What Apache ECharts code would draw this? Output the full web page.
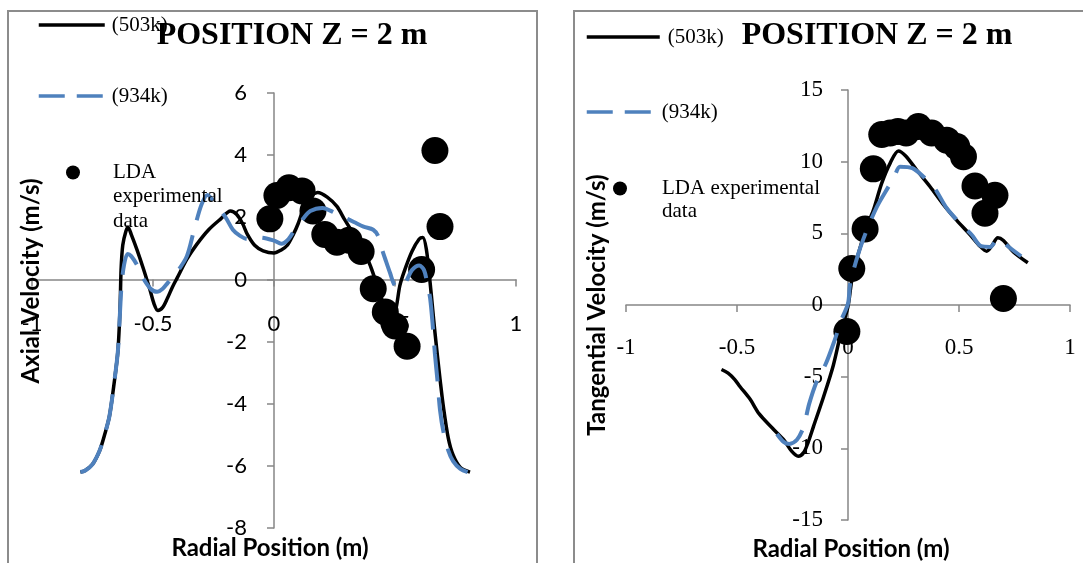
<!DOCTYPE html>
<html>
<head>
<meta charset="utf-8">
<title>Position Z = 2 m</title>
<script src="https://cdn.jsdelivr.net/npm/echarts@6.0.0/dist/echarts.min.js"></script>
<style>
  html, body { margin: 0; padding: 0; background: #fff; }
  #app { width: 1083px; height: 563px; }
</style>
</head>
<body>
<div id="app"></div>
<script>
// radial position (m) -> velocity (m/s)

// left panel: axial velocity
var axial503k = [
  [-0.80, -6.2], [-0.78, -6.15], [-0.75, -5.95], [-0.72, -5.5], [-0.70, -5.0], [-0.68, -4.4],
  [-0.66, -3.3], [-0.645, -2.3], [-0.636, -0.9], [-0.632, 0.3], [-0.625, 1.1], [-0.612, 1.55],
  [-0.603, 1.68], [-0.59, 1.45], [-0.566, 0.95], [-0.54, 0.35], [-0.512, -0.35], [-0.495, -0.8],
  [-0.48, -1.0], [-0.46, -0.9], [-0.44, -0.6], [-0.42, -0.25], [-0.40, 0.05], [-0.36, 0.65],
  [-0.32, 1.12], [-0.27, 1.6], [-0.22, 1.95], [-0.18, 2.2], [-0.155, 2.1], [-0.13, 1.8],
  [-0.11, 1.45], [-0.08, 1.1], [-0.045, 0.92], [0.0, 0.85], [0.03, 0.95], [0.055, 1.1],
  [0.08, 1.45], [0.10, 1.8], [0.128, 2.4], [0.155, 2.7], [0.18, 2.8], [0.22, 2.65],
  [0.26, 2.35], [0.29, 1.95], [0.33, 1.45], [0.37, 0.95], [0.40, 0.4], [0.42, -0.05],
  [0.44, -0.55], [0.47, -1.0], [0.49, -1.2], [0.505, -0.9], [0.52, -0.2], [0.54, 0.3],
  [0.57, 0.9], [0.60, 1.3], [0.615, 1.35], [0.63, 0.95], [0.645, -0.1], [0.655, -0.9],
  [0.665, -1.7], [0.676, -2.5], [0.686, -3.2], [0.70, -4.1], [0.72, -5.1], [0.74, -5.65],
  [0.77, -6.05], [0.81, -6.2]
];
var axial934k = [
  [-0.80, -6.2], [-0.78, -6.15], [-0.75, -5.95], [-0.72, -5.5], [-0.70, -5.0], [-0.68, -4.4],
  [-0.66, -3.3], [-0.645, -2.3], [-0.636, -1.0], [-0.63, -0.2], [-0.62, 0.45], [-0.605, 0.82],
  [-0.59, 0.75], [-0.565, 0.45], [-0.545, 0.1], [-0.51, -0.3], [-0.483, -0.4], [-0.46, -0.3],
  [-0.44, -0.12], [-0.40, 0.25], [-0.36, 0.75], [-0.33, 1.6], [-0.30, 2.4], [-0.275, 2.72],
  [-0.24, 2.4], [-0.20, 2.0], [-0.17, 1.6], [-0.14, 1.4], [-0.11, 1.3], [-0.06, 1.35],
  [0.0, 1.25], [0.03, 1.15], [0.06, 1.3], [0.09, 1.65], [0.12, 1.95], [0.15, 2.2],
  [0.20, 2.3], [0.25, 2.15], [0.29, 2.0], [0.33, 1.85], [0.37, 1.7], [0.41, 1.6],
  [0.43, 1.4], [0.445, 1.0], [0.46, 0.65], [0.48, 0.2], [0.50, -0.2], [0.53, -0.25],
  [0.55, 0.0], [0.57, 0.3], [0.60, 0.45], [0.62, 0.3], [0.635, -0.2], [0.645, -0.6],
  [0.655, -1.4], [0.665, -2.4], [0.676, -3.3], [0.686, -4.2], [0.70, -4.9], [0.72, -5.5],
  [0.74, -5.85], [0.77, -6.1], [0.80, -6.2]
];
var axialLDA = [
  [-0.017, 1.95], [0.012, 2.7], [0.062, 2.95], [0.116, 2.85], [0.161, 2.2], [0.21, 1.45],
  [0.26, 1.2], [0.31, 1.26], [0.36, 0.9], [0.41, -0.3], [0.46, -1.05], [0.50, -1.5],
  [0.55, -2.15], [0.61, 0.32], [0.665, 4.15], [0.686, 1.7]
];

// right panel: tangential velocity
var tang503k = [
  [-0.57, -4.5], [-0.54, -4.75], [-0.51, -5.2], [-0.486, -5.7], [-0.44, -6.6], [-0.40, -7.6],
  [-0.34, -8.6], [-0.29, -9.4], [-0.254, -10.2], [-0.224, -10.55], [-0.20, -10.3], [-0.18, -9.6],
  [-0.156, -8.5], [-0.11, -6.4], [-0.066, -4.2], [-0.03, -1.8], [0.0, -0.1], [0.017, 1.7],
  [0.047, 3.6], [0.084, 5.45], [0.114, 6.6], [0.152, 8.5], [0.19, 9.9], [0.227, 10.75],
  [0.26, 10.4], [0.31, 9.4], [0.37, 8.25], [0.43, 7.0], [0.49, 5.9], [0.55, 4.9],
  [0.595, 4.1], [0.625, 3.75], [0.647, 4.1], [0.675, 4.7], [0.70, 4.5], [0.745, 3.7],
  [0.81, 2.95]
];
var tang934k = [
  [-0.32, -9.0], [-0.29, -9.55], [-0.265, -9.7], [-0.23, -9.4], [-0.20, -8.5], [-0.175, -6.9],
  [-0.14, -5.3], [-0.10, -4.1], [-0.06, -2.45], [-0.03, -1.05], [0.0, 0.1], [0.01, 1.5],
  [0.047, 3.6], [0.084, 5.2], [0.13, 6.85], [0.186, 8.35], [0.21, 9.0], [0.234, 9.65],
  [0.29, 9.55], [0.34, 8.95], [0.39, 8.15], [0.445, 6.75], [0.505, 5.7], [0.557, 4.9],
  [0.60, 4.1], [0.64, 4.05], [0.677, 4.65], [0.72, 4.1], [0.78, 3.4]
];
var tangLDA = [
  [-0.005, -1.85], [0.017, 2.55], [0.077, 5.3], [0.114, 9.5], [0.152, 11.9], [0.19, 12.0],
  [0.225, 12.1], [0.262, 12.0], [0.317, 12.45], [0.377, 12.0], [0.445, 11.5], [0.49, 11.05],
  [0.52, 10.35], [0.572, 8.3], [0.617, 6.4], [0.662, 7.65], [0.70, 0.45]
];

var seriesNames = ['(503k)', '(934k)', 'LDA experimental data'];
var xRange = { min: -1, max: 1, step: 0.5 };
var axialRange = { min: -8, max: 6, step: 2 };
var tangRange = { min: -15, max: 15, step: 5 };

var AXIS_GREY = '#868686';
var BLUE = '#4F81BD';
var SERIF = '"Liberation Serif", "Times New Roman", serif';
var SANS = 'Lato, "Liberation Sans", sans-serif';

// plot boxes (px) of the two panels
var boxL = { x0: 32, x1: 516, y0: 93, y1: 528 };
var boxR = { x0: 626, x1: 1070, y0: 90, y1: 520 };

// axes cross at zero: shift each axis from the grid edge to the zero line
function zeroShift(range, size) {
  return (0 - range.min) / (range.max - range.min) * size;
}

function valueAxis(gridIndex, range, labelFont, labelSize, margin, offset) {
  return {
    type: 'value',
    gridIndex: gridIndex,
    min: range.min, max: range.max, interval: range.step,
    offset: offset,
    axisLine: { show: true, onZero: false, lineStyle: { color: AXIS_GREY, width: 1.5 } },
    axisTick: { show: true, length: 7, lineStyle: { color: AXIS_GREY, width: 1.5 } },
    splitLine: { show: false },
    axisLabel: { margin: margin, fontFamily: labelFont, fontSize: labelSize, color: '#000' }
  };
}

function lineSeries(name, idx, data, color, width, dash) {
  return {
    name: name, type: 'line', xAxisIndex: idx, yAxisIndex: idx,
    data: data, symbol: 'none', smooth: 0.3,
    lineStyle: { color: color, width: width, type: dash || 'solid' },
    itemStyle: { color: color },
    animation: false
  };
}

function dotSeries(name, idx, data) {
  return {
    name: name, type: 'scatter', xAxisIndex: idx, yAxisIndex: idx,
    data: data, symbol: 'circle', symbolSize: 27,
    itemStyle: { color: '#000', opacity: 1 }, animation: false
  };
}

function legendItem(name, left, top, w, h, text, lineStyle, gap) {
  var l = {
    data: [name], left: left, top: top, padding: 0,
    itemWidth: w, itemHeight: h, selectedMode: false,
    formatter: function () { return text; },
    textStyle: { fontFamily: SERIF, fontSize: 21, color: '#000', padding: [0, 0, 0, gap] }
  };
  if (lineStyle) {
    l.lineStyle = lineStyle;
    // hide the marker the line icon carries in its middle
    l.itemStyle = { opacity: 0, borderWidth: 0 };
  }
  return l;
}

function label(txt, x, y, font, rot, align) {
  return {
    type: 'text', x: x, y: y, rotation: rot || 0, z: 10, silent: true,
    style: { text: txt, font: font, fill: '#000', align: align || 'center', verticalAlign: 'middle' }
  };
}

var chart = echarts.init(document.getElementById('app'));

chart.setOption({
  animation: false,
  backgroundColor: '#fff',
  grid: [
    { left: boxL.x0, right: 1083 - boxL.x1, top: boxL.y0, bottom: 563 - boxL.y1, outerBoundsMode: 'none' },
    { left: boxR.x0, right: 1083 - boxR.x1, top: boxR.y0, bottom: 563 - boxR.y1, outerBoundsMode: 'none' }
  ],
  xAxis: [
    valueAxis(0, xRange, SANS, 22, 33, -zeroShift(axialRange, boxL.y1 - boxL.y0)),
    valueAxis(1, xRange, SERIF, 23, 31, -zeroShift(tangRange, boxR.y1 - boxR.y0))
  ],
  yAxis: [
    valueAxis(0, axialRange, SANS, 22, 27, -zeroShift(xRange, boxL.x1 - boxL.x0)),
    valueAxis(1, tangRange, SERIF, 23, 25, -zeroShift(xRange, boxR.x1 - boxR.x0))
  ],
  legend: [
    legendItem(seriesNames[0], 37, 13, 66, 30, '(503k)', { color: '#000', width: 3.5 }, 2),
    legendItem(seriesNames[1], 37, 84, 66, 30, '(934k)', { color: BLUE, width: 3.5, type: [26, 12] }, 2),
    legendItem(seriesNames[2], 66, 162, 60, 14, 'LDA', null, 5),
    legendItem(seriesNames[0], 585, 25, 73, 30, '(503k)', { color: '#000', width: 3.5 }, 3),
    legendItem(seriesNames[1], 585, 100, 67, 30, '(934k)', { color: BLUE, width: 3.5, type: [26, 12] }, 3),
    legendItem(seriesNames[2], 613, 178, 64, 14, 'LDA experimental', null, 5)
  ],
  series: [
    lineSeries(seriesNames[0], 0, axial503k, '#000', 3.5),
    lineSeries(seriesNames[1], 0, axial934k, BLUE, 4, [36, 16]),
    dotSeries(seriesNames[2], 0, axialLDA),
    lineSeries(seriesNames[0], 1, tang503k, '#000', 3.5),
    lineSeries(seriesNames[1], 1, tang934k, BLUE, 4, [36, 16]),
    dotSeries(seriesNames[2], 1, tangLDA)
  ],
  graphic: [
    { type: 'rect', silent: true, z: -10,
      shape: { x: 8, y: 11, width: 529, height: 580 },
      style: { fill: 'none', stroke: '#8c8c8c', lineWidth: 2 } },
    { type: 'rect', silent: true, z: -10,
      shape: { x: 574, y: 11, width: 540, height: 580 },
      style: { fill: 'none', stroke: '#8c8c8c', lineWidth: 2 } },
    // continuation lines of the LDA legend entries
    label('experimental', 113, 196, '21px ' + SERIF, 0, 'left'),
    label('data', 113, 221, '21px ' + SERIF, 0, 'left'),
    label('data', 662, 211, '21px ' + SERIF, 0, 'left'),
    label('POSITION Z = 2 m', 292, 36, 'bold 32px ' + SERIF),
    label('POSITION Z = 2 m', 877, 36, 'bold 32px ' + SERIF),
    label('Radial Position (m)', 270, 548, 'bold 24px ' + SANS),
    label('Radial Position (m)', 851, 549, 'bold 24px ' + SANS),
    label('Axial Velocity (m/s)', 31, 281, 'bold 24px ' + SANS, Math.PI / 2),
    label('Tangential Velocity (m/s)', 597, 305, 'bold 24px ' + SANS, Math.PI / 2)
  ]
});
</script>
</body>
</html>
